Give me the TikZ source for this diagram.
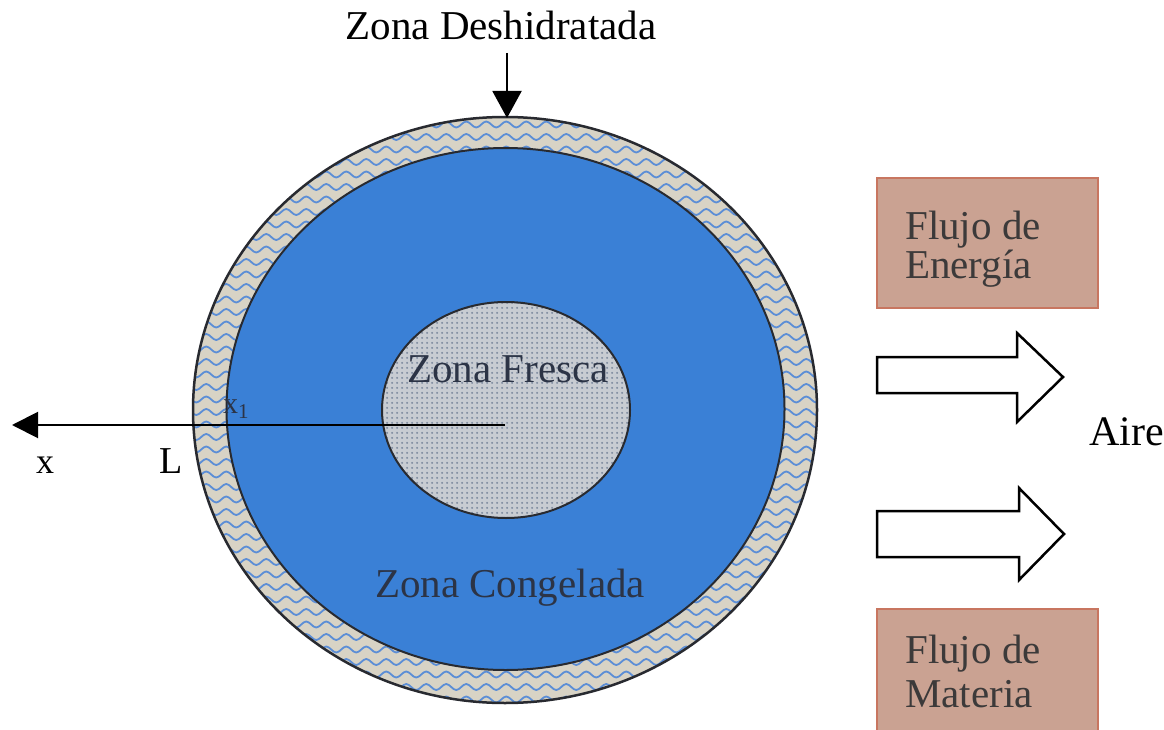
\documentclass[tikz,border=0pt]{standalone}
\usepackage{fontspec}
\setmainfont{Liberation Serif}
\usetikzlibrary{arrows.meta,patterns.meta,decorations.pathmorphing}
\definecolor{ringbg}{RGB}{216,211,197}
\definecolor{wavec}{RGB}{92,142,214}
\definecolor{frozen}{RGB}{58,128,214}
\definecolor{freshbg}{RGB}{200,204,210}
\definecolor{dotc}{RGB}{128,140,160}
\definecolor{boxfill}{RGB}{202,162,146}
\definecolor{boxline}{RGB}{200,118,96}
\definecolor{intext}{RGB}{44,52,70}
\definecolor{boxtext}{RGB}{60,58,58}
\definecolor{outline}{RGB}{40,42,48}
\tikzdeclarepattern{
  name=fdots,
  type=uncolored,
  bounding box={(0pt,0pt) and (5pt,5pt)},
  tile size={(5pt,5pt)},
  code={\pgfpathcircle{\pgfpoint{2.5pt}{2.5pt}}{1.3pt}\pgfusepath{fill}}
}
\newcommand\fsz[1]{\fontsize{#1pt}{#1pt}\selectfont}
\begin{document}
\begin{tikzpicture}[x=1pt,y=-1pt,
  bigtext/.style={font=\fsz{41}, inner sep=0pt, anchor=base},
  boxtxt/.style={font=\fsz{41}, inner sep=0pt, anchor=base west, text=boxtext},
  flowbox/.style={draw=boxline, line width=2pt, fill=boxfill, anchor=north west, inner sep=0pt},
  blockarrow/.style={draw=black, line width=2.5pt, fill=white, line join=miter},
  wave/.style={draw=wavec, line width=1.8pt, decorate, decoration={snake, segment length=20pt, amplitude=3pt}}
]
\useasboundingbox (0,0) rectangle (1164,730);
\fill[white] (0,0) rectangle (1164,730);

% dehydrated ring
\fill[ringbg] (505,410) ellipse (312 and 293);
\begin{scope}
  \clip (505,410) ellipse (312 and 293);
  \foreach \yy in {112,124.5,...,712} {
    \draw[wave] (180,\yy) -- (840,\yy);
  }
\end{scope}
\draw[outline, line width=2.5pt] (505,410) ellipse (312 and 293);

% frozen zone
\fill[frozen] (505.5,409) ellipse (279 and 261);
\draw[outline, line width=2pt] (505.5,409) ellipse (279 and 261);

% fresh zone
\fill[freshbg] (506,410) ellipse (124 and 108);
\fill[pattern=fdots, pattern color=dotc] (506,410) ellipse (124 and 108);
\draw[outline, line width=2pt] (506,410) ellipse (124 and 108);

% texts in the circle
\node[bigtext, text=intext] (fresca) at (508,382) {Zona Fresca};
\node[bigtext, text=intext] (congelada) at (510,597) {Zona Congelada};
\node[bigtext, text=black] (deshid) at (501,40) {Zona Deshidratada};

% axis
\coordinate (axstart) at (505,425);
\coordinate (axend) at (12,425);
\draw[line width=2pt, -{Triangle[length=26pt,width=26pt]}] (axstart) -- (axend);
\node[font=\fsz{30}, inner sep=0pt, anchor=base west, text=intext] (xone) at (223,413) {x\textsubscript{1}};
\node[font=\fsz{36}, inner sep=0pt, anchor=base] (xlab) at (45,473) {x};
\node[font=\fsz{38}, inner sep=0pt, anchor=base] (llab) at (171,473) {L};

% arrow to dehydrated zone
\coordinate (dtop) at (507,53);
\coordinate (dtip) at (507,118);
\draw[line width=2pt, -{Triangle[length=27pt,width=29pt]}] (dtop) -- (dtip);

% flow boxes
\node[flowbox, minimum width=221pt, minimum height=130pt] (ebox) at (876,177) {};
\node[boxtxt] (e1) at (905,240) {Flujo de};
\node[boxtxt] (e2) at (905,278) {Energía};
\node[flowbox, minimum width=221pt, minimum height=124pt] (mbox) at (876,608) {};
\node[boxtxt] (m1) at (905,663) {Flujo de};
\node[boxtxt] (m2) at (905,707) {Materia};

% block arrows
\draw[blockarrow] (877,357) -- (1017,357) -- (1017,333) -- (1063,377) -- (1017,422) -- (1017,393) -- (877,393) -- cycle;
\draw[blockarrow] (877,511) -- (1019,511) -- (1019,488) -- (1064,534) -- (1019,580) -- (1019,557) -- (877,557) -- cycle;

\node[bigtext, font=\fsz{42}, anchor=base west] (aire) at (1089,445) {Aire};
\end{tikzpicture}
\end{document}
